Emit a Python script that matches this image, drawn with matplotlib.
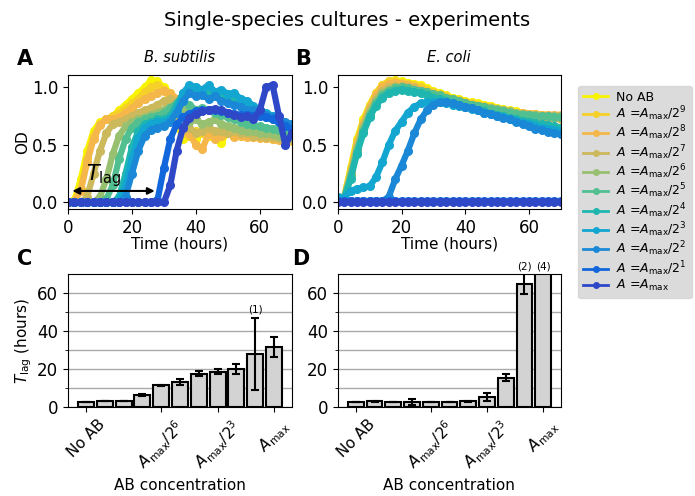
import numpy as np
import matplotlib.pyplot as plt
from matplotlib.lines import Line2D

# ---------------- data ----------------
labels = ["No AB"] + [r"$A$ =$A_{\rm max}/2^%d$" % k for k in range(9, 0, -1)] + [r"$A$ =$A_{\rm max}$"]
colors = ["#f8f400", "#f5d028", "#f5b64a", "#cbb95c", "#97c070", "#52bf90",
          "#1fb6b0", "#12a6d0", "#1a88d6", "#1267dc", "#2e48c8"]

time_h = [0, 2, 4, 6, 8, 10, 12, 14, 16, 18, 20, 22, 24, 26, 28, 30, 32, 34,
          36, 38, 40, 42, 44, 46, 48, 50, 52, 54, 56, 58, 60, 62, 64, 66, 68, 70]

# B. subtilis OD curves (one per AB concentration)
bsub_od = [
    [0.0, 0.02, 0.2, 0.45, 0.62, 0.7, 0.72, 0.75, 0.8, 0.85, 0.9, 0.95, 1.0, 1.06, 1.05, 1.0, 0.95, 0.7,
     0.55, 0.6, 0.55, 0.62, 0.58, 0.6, 0.52, 0.62, 0.6, 0.58, 0.6, 0.58, 0.57, 0.56, 0.55, 0.56, 0.54, 0.55],
    [0.0, 0.01, 0.12, 0.38, 0.58, 0.68, 0.72, 0.75, 0.78, 0.82, 0.86, 0.9, 0.96, 1.0, 1.02, 0.98, 0.9, 0.75,
     0.6, 0.58, 0.62, 0.6, 0.6, 0.58, 0.6, 0.6, 0.58, 0.59, 0.58, 0.57, 0.57, 0.56, 0.55, 0.55, 0.54, 0.54],
    [0.0, 0.01, 0.1, 0.35, 0.55, 0.67, 0.72, 0.72, 0.74, 0.78, 0.82, 0.86, 0.9, 0.92, 0.95, 0.97, 0.95, 0.9,
     0.88, 0.6, 0.5, 0.46, 0.6, 0.55, 0.58, 0.6, 0.57, 0.58, 0.57, 0.57, 0.56, 0.56, 0.55, 0.54, 0.54, 0.53],
    [0.0, 0.0, 0.0, 0.05, 0.25, 0.45, 0.6, 0.68, 0.7, 0.72, 0.75, 0.78, 0.8, 0.82, 0.85, 0.88, 0.9, 0.88,
     0.8, 0.65, 0.6, 0.62, 0.65, 0.62, 0.62, 0.6, 0.62, 0.6, 0.6, 0.58, 0.58, 0.57, 0.57, 0.56, 0.56, 0.55],
    [0.0, 0.0, 0.0, 0.0, 0.0, 0.05, 0.2, 0.42, 0.58, 0.66, 0.7, 0.72, 0.74, 0.76, 0.78, 0.8, 0.83, 0.86,
     0.8, 0.7, 0.72, 0.68, 0.7, 0.72, 0.68, 0.66, 0.65, 0.63, 0.62, 0.62, 0.6, 0.6, 0.59, 0.58, 0.58, 0.57],
    [0.0, 0.0, 0.0, 0.0, 0.0, 0.0, 0.03, 0.15, 0.38, 0.55, 0.65, 0.7, 0.72, 0.74, 0.75, 0.78, 0.82, 0.86,
     0.88, 0.85, 0.8, 0.82, 0.8, 0.78, 0.76, 0.74, 0.72, 0.7, 0.68, 0.67, 0.66, 0.65, 0.64, 0.63, 0.62, 0.6],
    [0.0, 0.0, 0.0, 0.0, 0.0, 0.0, 0.0, 0.0, 0.05, 0.25, 0.48, 0.62, 0.68, 0.7, 0.72, 0.72, 0.75, 0.85,
     0.95, 1.0, 0.98, 0.95, 0.97, 0.93, 0.95, 0.9, 0.88, 0.85, 0.8, 0.78, 0.76, 0.74, 0.72, 0.7, 0.67, 0.65],
    [0.0, 0.0, 0.0, 0.0, 0.0, 0.0, 0.0, 0.0, 0.02, 0.15, 0.38, 0.56, 0.65, 0.68, 0.7, 0.7, 0.72, 0.8,
     0.95, 1.02, 1.0, 0.98, 1.02, 0.96, 0.98, 0.94, 0.95, 0.9, 0.88, 0.84, 0.8, 0.78, 0.75, 0.72, 0.68, 0.65],
    [0.0, 0.0, 0.0, 0.0, 0.0, 0.0, 0.0, 0.0, 0.0, 0.05, 0.25, 0.45, 0.58, 0.63, 0.65, 0.66, 0.7, 0.78,
     0.88, 0.95, 0.92, 0.93, 0.9, 0.92, 0.88, 0.86, 0.85, 0.83, 0.8, 0.8, 0.78, 0.76, 0.74, 0.72, 0.7, 0.68],
    [0.0, 0.0, 0.0, 0.0, 0.0, 0.0, 0.0, 0.0, 0.0, 0.0, 0.0, 0.0, 0.0, 0.0, 0.02, 0.3, 0.55, 0.68,
     0.74, 0.77, 0.79, 0.8, 0.8, 0.8, 0.79, 0.78, 0.77, 0.76, 0.76, 0.75, 0.75, 0.74, 0.72, 0.7, 0.66, 0.64],
    [0.0, 0.0, 0.0, 0.0, 0.0, 0.0, 0.0, 0.0, 0.0, 0.0, 0.0, 0.0, 0.0, 0.0, 0.0, 0.0, 0.15, 0.45,
     0.65, 0.73, 0.77, 0.79, 0.8, 0.81, 0.8, 0.78, 0.76, 0.74, 0.75, 0.72, 0.8, 1.0, 1.02, 0.75, 0.5, 0.6],
]

# E. coli OD curves
ecoli_od = [
    [0.02, 0.05, 0.3, 0.55, 0.72, 0.85, 0.95, 1.02, 1.05, 1.06, 1.05, 1.04, 1.03, 1.02, 0.99, 0.97, 0.95, 0.93,
     0.91, 0.9, 0.88, 0.87, 0.86, 0.85, 0.84, 0.82, 0.81, 0.8, 0.79, 0.78, 0.77, 0.77, 0.76, 0.76, 0.75, 0.75],
    [0.02, 0.04, 0.28, 0.53, 0.7, 0.84, 0.95, 1.02, 1.05, 1.05, 1.04, 1.03, 1.02, 1.0, 0.98, 0.96, 0.94, 0.92,
     0.9, 0.89, 0.87, 0.86, 0.85, 0.84, 0.83, 0.81, 0.8, 0.79, 0.78, 0.77, 0.76, 0.76, 0.75, 0.75, 0.74, 0.74],
    [0.02, 0.04, 0.26, 0.5, 0.68, 0.82, 0.93, 1.0, 1.03, 1.04, 1.03, 1.02, 1.0, 0.98, 0.96, 0.94, 0.92, 0.9,
     0.89, 0.88, 0.86, 0.85, 0.84, 0.83, 0.82, 0.81, 0.8, 0.79, 0.78, 0.78, 0.77, 0.77, 0.76, 0.76, 0.76, 0.76],
    [0.02, 0.04, 0.25, 0.48, 0.66, 0.8, 0.9, 0.97, 1.0, 1.01, 1.01, 1.0, 0.99, 0.97, 0.95, 0.93, 0.91, 0.9,
     0.88, 0.87, 0.86, 0.84, 0.83, 0.82, 0.81, 0.8, 0.79, 0.78, 0.77, 0.76, 0.75, 0.75, 0.74, 0.73, 0.73, 0.72],
    [0.02, 0.04, 0.24, 0.46, 0.64, 0.78, 0.88, 0.95, 0.98, 1.0, 1.0, 0.99, 0.98, 0.97, 0.95, 0.93, 0.91, 0.9,
     0.88, 0.87, 0.86, 0.85, 0.84, 0.83, 0.82, 0.81, 0.8, 0.79, 0.78, 0.77, 0.76, 0.76, 0.75, 0.75, 0.75, 0.75],
    [0.02, 0.04, 0.22, 0.44, 0.62, 0.76, 0.86, 0.93, 0.97, 0.99, 1.0, 0.99, 0.98, 0.97, 0.96, 0.94, 0.93, 0.91,
     0.9, 0.88, 0.86, 0.85, 0.84, 0.83, 0.81, 0.8, 0.79, 0.78, 0.77, 0.76, 0.76, 0.75, 0.75, 0.75, 0.74, 0.74],
    [0.02, 0.04, 0.2, 0.42, 0.6, 0.74, 0.84, 0.91, 0.95, 0.97, 0.98, 0.97, 0.96, 0.95, 0.93, 0.91, 0.9, 0.88,
     0.86, 0.85, 0.83, 0.82, 0.8, 0.79, 0.77, 0.76, 0.75, 0.73, 0.72, 0.71, 0.7, 0.69, 0.68, 0.67, 0.66, 0.65],
    [0.05, 0.04, 0.1, 0.12, 0.13, 0.14, 0.22, 0.35, 0.5, 0.62, 0.7, 0.78, 0.83, 0.86, 0.87, 0.87, 0.87, 0.86,
     0.85, 0.84, 0.83, 0.81, 0.8, 0.78, 0.77, 0.75, 0.74, 0.72, 0.71, 0.69, 0.68, 0.66, 0.65, 0.64, 0.63, 0.62],
    [0.01, 0.01, 0.01, 0.01, 0.01, 0.01, 0.01, 0.01, 0.05, 0.2, 0.32, 0.45, 0.6, 0.72, 0.8, 0.85, 0.87, 0.87,
     0.86, 0.85, 0.83, 0.82, 0.8, 0.78, 0.77, 0.75, 0.73, 0.72, 0.7, 0.68, 0.66, 0.64, 0.63, 0.61, 0.6, 0.59],
    [0.01] * 36,
    [0.0] * 36,
]

# lag times (hours)
bsub_lag = [2.8, 3.0, 3.3, 6.2, 11.5, 13.4, 17.5, 18.7, 20.0, 28.0, 31.8]
bsub_lag_err = [0, 0, 0, 0.5, 0.3, 1.6, 1.3, 1.2, 2.5, 19.0, 5.2]
ecoli_lag = [2.8, 3.0, 2.8, 2.8, 2.8, 2.8, 3.0, 5.3, 15.4, 65.0, 72.0]
ecoli_lag_err = [0, 0.2, 0, 1.5, 0, 0, 0.2, 2.0, 1.8, 5.5, 0]
bsub_notes = {9: "(1)"}
ecoli_notes = {9: "(2)", 10: "(4)"}

bar_ticks = [0, 4, 7, 10]
bar_ticklabels = ["No AB", r"$A_{\rm max}/2^6$", r"$A_{\rm max}/2^3$", r"$A_{\rm max}$"]


def draw_curves(ax, curves, title):
    for od, c in zip(curves, colors):
        ax.plot(time_h, od, color=c, lw=4.5, marker='o', ms=5.5)
    ax.set_xlim(0, 70)
    ax.set_ylim(-0.055, 1.107)
    ax.set_xticks([0, 20, 40, 60])
    ax.set_yticks([0.0, 0.5, 1.0])
    ax.set_xlabel('Time (hours)', fontsize=11, labelpad=0)
    ax.set_title(title, fontsize=10.5, style='italic', pad=9)


def draw_bars(ax, lag, err, notes):
    idx = np.arange(len(lag))
    ax.set_axisbelow(True)
    ax.yaxis.grid(True, which='both', color='#aaaaaa', lw=1)
    ax.bar(idx, lag, width=0.85, color='#d3d3d3', edgecolor='black', lw=1.5)
    ax.errorbar(idx, lag, yerr=err, fmt='none', ecolor='black', elinewidth=1.5, capsize=3, capthick=1.5)
    for i, s in notes.items():
        ax.text(i, min(lag[i] + err[i], 70) + 1.5, s, ha='center', va='bottom', fontsize=7.5, clip_on=False)
    ax.set_ylim(0, 70)
    ax.set_xlim(-0.96, 10.94)
    ax.set_yticks([0, 20, 40, 60])
    ax.set_yticks([10, 30, 50], minor=True)
    ax.set_xticks(bar_ticks)
    ax.set_xticklabels(bar_ticklabels, rotation=45, fontsize=11)
    ax.set_xlabel('AB concentration', fontsize=11)


def main():
    plt.rcParams['xtick.labelsize'] = 12
    plt.rcParams['ytick.labelsize'] = 12

    fig = plt.figure(figsize=(6.95, 4.96), dpi=100)
    axA = fig.add_axes([0.0978, 0.579, 0.322, 0.270])
    axB = fig.add_axes([0.486, 0.579, 0.321, 0.270])
    axC = fig.add_axes([0.0978, 0.1794, 0.322, 0.268])
    axD = fig.add_axes([0.486, 0.1794, 0.321, 0.268])

    draw_curves(axA, bsub_od, 'B. subtilis')
    draw_curves(axB, ecoli_od, 'E. coli')
    axA.set_ylabel('OD', fontsize=11, labelpad=1)

    # lag time arrow
    axA.annotate('', xy=(0.5, 0.1), xytext=(28, 0.1),
                 arrowprops=dict(arrowstyle='<|-|>', color='black', lw=1.5, mutation_scale=10))
    axA.text(5.6, 0.19, r'$T_{\rm lag}$', fontsize=15, va='baseline')

    draw_bars(axC, bsub_lag, bsub_lag_err, bsub_notes)
    draw_bars(axD, ecoli_lag, ecoli_lag_err, ecoli_notes)
    axC.set_ylabel(r'$T_{\rm lag}$ (hours)', fontsize=11, labelpad=2)

    handles = [Line2D([], [], color=c, lw=2, marker='o', ms=4) for c in colors]
    fig.legend(handles, labels, loc='upper left', bbox_to_anchor=(0.832, 0.827),
               fontsize=9, facecolor='lightgray', edgecolor='lightgray', framealpha=0.8,
               handlelength=2.0, handletextpad=0.6, labelspacing=0.05, borderaxespad=0)

    fig.text(0.5, 1 - 20 / 496, 'Single-species cultures - experiments', ha='center', va='center', fontsize=14)
    for lab, x, y in [('A', 17, 65), ('B', 295, 65), ('C', 17, 265), ('D', 292, 265)]:
        fig.text(x / 695, 1 - y / 496, lab, fontsize=15, fontweight='bold', va='baseline')

    plt.savefig('out.png', dpi=100)


if __name__ == '__main__':
    main()
